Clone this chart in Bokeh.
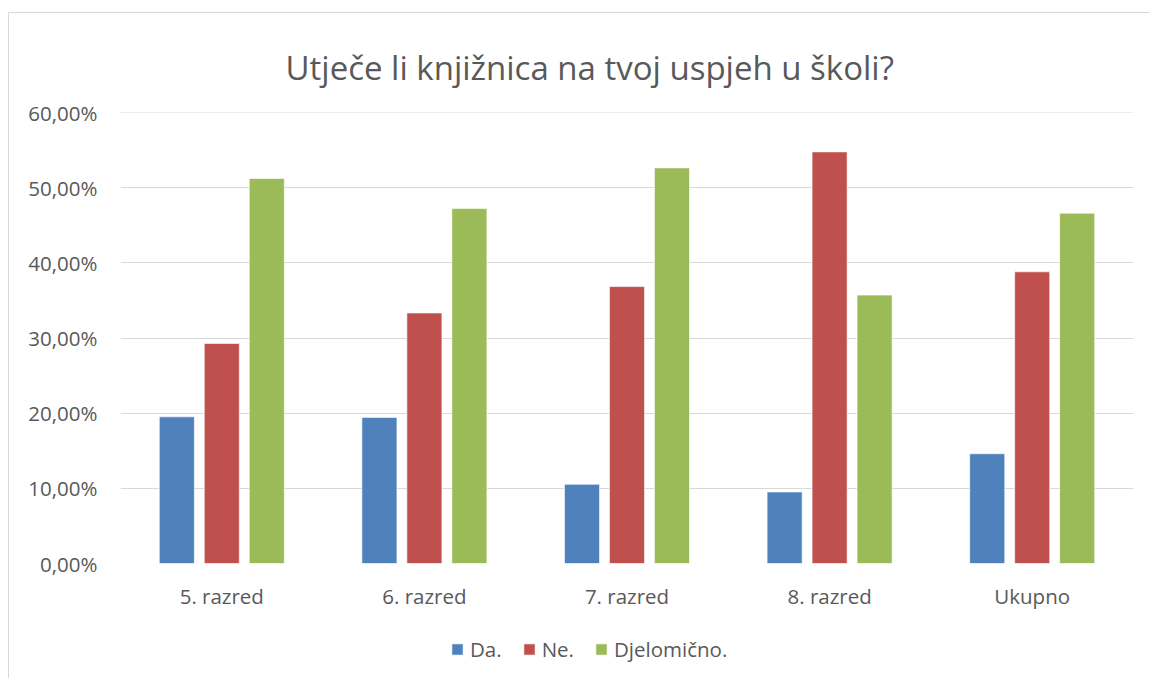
from bokeh.plotting import figure
from bokeh.layouts import column
from bokeh.models import (FactorRange, Range1d, Legend, LegendItem, ColumnDataSource,
                          SingleIntervalTicker, CustomJSTickFormatter)
from bokeh.transform import dodge
from bokeh.embed import file_html
from bokeh.resources import INLINE

categories = ["5. razred", "6. razred", "7. razred", "8. razred", "Ukupno"]
da = [0.1951, 0.1944, 0.1053, 0.0952, 0.146]
ne = [0.2927, 0.3333, 0.3684, 0.5476, 0.388]
djelomicno = [0.5122, 0.4722, 0.5263, 0.3571, 0.466]
series_labels = ["Da.", "Ne.", "Djelomično."]
colors = ["#4F81BD", "#C0504D", "#9BBB59"]
title_text = "Utječe li knjižnica na tvoj uspjeh u školi?"

FONT = "Open Sans"
TXT = "#595959"
W = 1141

src = ColumnDataSource(dict(cat=categories, da=da, ne=ne, dj=djelomicno))
xr = FactorRange(*categories, range_padding=0)

p = figure(x_range=xr, y_range=Range1d(0, 0.6 + 1e-9),
           width=W, height=611, output_backend="svg", toolbar_location=None,
           min_border_left=111, min_border_top=99, min_border_bottom=61,
           min_border_right=W - 1124)
p.outline_line_color = None
p.background_fill_color = "white"
p.border_fill_color = "white"

p.title.text = title_text
p.title.align = "left"
p.title.offset = 165
p.title.standoff = 46
p.title.text_font = FONT
p.title.text_font_size = "33px"
p.title.text_font_style = "normal"
p.title.text_color = TXT

offsets = [-0.222, 0.0, 0.222]
fields = ["da", "ne", "dj"]
for f, off, c in zip(fields, offsets, colors):
    p.vbar(x=dodge("cat", off, range=xr), top=f, width=0.173, source=src,
           fill_color=c, line_color="white", line_width=1, line_alpha=0.6)

p.yaxis.ticker = SingleIntervalTicker(interval=0.1, num_minor_ticks=0)
p.yaxis.formatter = CustomJSTickFormatter(code="return (tick*100).toFixed(2).replace('.', ',') + '%';")
for ax in (p.xaxis, p.yaxis):
    ax.axis_line_color = None
    ax.major_tick_line_color = None
    ax.minor_tick_line_color = None
    ax.major_tick_out = 0
    ax.major_tick_in = 0
    ax.major_label_text_font = FONT
    ax.major_label_text_font_size = "20.5px"
    ax.major_label_text_color = TXT
p.yaxis.major_label_standoff = 23
p.xaxis.major_label_standoff = 18

p.xgrid.grid_line_color = None
p.ygrid.grid_line_color = "#D9D9D9"
p.ygrid.grid_line_width = 1

# legend strip below the chart (renderers hidden, only used for swatches)
q = figure(x_range=xr, y_range=Range1d(0, 1), width=W, height=54,
           output_backend="svg", toolbar_location=None,
           x_axis_location=None, y_axis_location=None,
           min_border=0, min_border_left=0, min_border_right=0,
           min_border_top=0, min_border_bottom=0)
q.outline_line_color = None
q.xgrid.grid_line_color = None
q.ygrid.grid_line_color = None
q.border_fill_color = "white"
q.background_fill_color = "white"

legend_renderers = []
for f, off, c in zip(fields, offsets, colors):
    r = q.vbar(x=dodge("cat", off, range=xr), top=f, width=0.173, source=src,
               fill_color=c, line_color="white", line_width=1, line_alpha=0.6,
               visible=False)
    legend_renderers.append(r)

legend = Legend(items=[LegendItem(label=l, renderers=[r])
                       for l, r in zip(series_labels, legend_renderers)],
                orientation="horizontal", location=(330, 15),
                border_line_color=None, background_fill_alpha=0,
                inactive_fill_alpha=0,
                glyph_width=14, glyph_height=14, label_standoff=6, spacing=20,
                label_text_font=FONT, label_text_font_size="20.5px", label_text_color=TXT,
                padding=0, margin=0)
q.add_layout(legend, "center")

layout = column(p, q, spacing=0, margin=(12, 0, 0, 8),
                styles={"border-left": "1px solid #D9D9D9", "border-top": "1px solid #D9D9D9"})

open("out.html", "w").write(file_html(layout, INLINE))
